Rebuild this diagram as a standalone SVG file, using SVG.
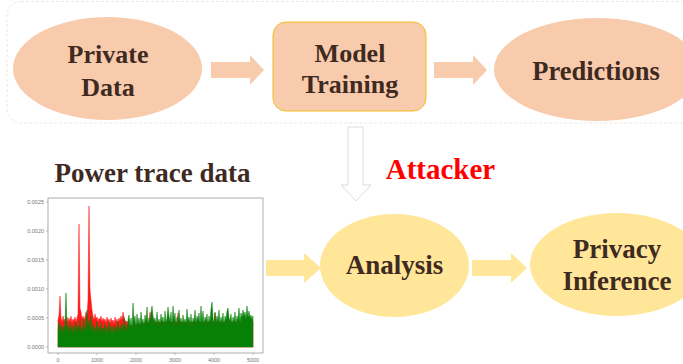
<svg xmlns="http://www.w3.org/2000/svg" width="683" height="364" viewBox="0 0 683 364">
<style>
.lbl{font-family:"Liberation Serif","Times New Roman",serif;font-weight:bold;fill:#3F2A1F;text-anchor:middle}
.top{fill:#F8CBAD}
.bot{fill:#FFE699}
.tick{font-family:"Liberation Sans",Arial,sans-serif;font-size:5.5px;fill:#777}
</style>
<rect width="683" height="364" fill="#FFFFFF"/>
<g id="container">
<rect x="7" y="1.5" width="700" height="121.5" rx="14" fill="#FFFFFF" stroke="#EEE8DE" stroke-width="1" stroke-dasharray="3,2"/>
</g>
<g id="connectors">
<path class="top" d="M211,62 H250 V55 L264,70 L250,85 V78 H211 Z"/>
<path class="top" d="M434,62 H473 V55 L487,70 L473,85 V78 H434 Z"/>
<path d="M348,127 H363 V185 H371 L356,201 L341,185 H348 Z" fill="#FFFFFF" stroke="#DCDCDC" stroke-width="1"/>
<path class="bot" d="M266,260 H304 V253 L321,268 L304,283 V276 H266 Z"/>
<path class="bot" d="M472,260 H511 V253 L527,268 L511,283 V276 H472 Z"/>
</g>
<g id="private-data">
<ellipse class="top" cx="107.5" cy="68.5" rx="94.5" ry="51.5"/>
<text class="lbl" x="108" y="63" font-size="26">Private</text>
<text class="lbl" x="108" y="96" font-size="26">Data</text>
</g>
<g id="model-training">
<rect class="top" x="273" y="22" width="153" height="89" rx="13" stroke="#F5BC1C" stroke-width="1"/>
<text class="lbl" x="350" y="62" font-size="26">Model</text>
<text class="lbl" x="350" y="93" font-size="26">Training</text>
</g>
<g id="predictions">
<ellipse class="top" cx="597" cy="69.5" rx="103" ry="51.5"/>
<text class="lbl" x="596" y="80" font-size="26.5">Predictions</text>
</g>
<g id="attacker">
<text x="440.5" y="179" font-family="'Liberation Serif','Times New Roman',serif" font-weight="bold" font-size="29" fill="#FF0000" text-anchor="middle">Attacker</text>
</g>
<g id="power-trace">
<text class="lbl" x="152.5" y="182" font-size="27" fill="#4A2E22">Power trace data</text>
<rect x="48" y="198" width="215" height="155" fill="#FFFFFF" stroke="#999" stroke-width="0.8"/>
<g stroke="#999" stroke-width="0.6">
<line x1="46" y1="202" x2="48" y2="202"/><line x1="46" y1="231" x2="48" y2="231"/><line x1="46" y1="260" x2="48" y2="260"/><line x1="46" y1="289" x2="48" y2="289"/><line x1="46" y1="318" x2="48" y2="318"/><line x1="46" y1="347" x2="48" y2="347"/>
<line x1="58" y1="353" x2="58" y2="355"/><line x1="97" y1="353" x2="97" y2="355"/><line x1="136" y1="353" x2="136" y2="355"/><line x1="175" y1="353" x2="175" y2="355"/><line x1="214" y1="353" x2="214" y2="355"/><line x1="253" y1="353" x2="253" y2="355"/>
</g>
<g class="tick" text-anchor="end">
<text x="44" y="204">0.0025</text><text x="44" y="233">0.0020</text><text x="44" y="262">0.0015</text><text x="44" y="291">0.0010</text><text x="44" y="320">0.0005</text><text x="44" y="349">0.0000</text>
</g>
<g class="tick" text-anchor="middle">
<text x="58" y="362">0</text><text x="97" y="362">1000</text><text x="136" y="362">2000</text><text x="175" y="362">3000</text><text x="214" y="362">4000</text><text x="253" y="362">5000</text>
</g>
<polygon fill="#FF1A1A" stroke="#FF1A1A" stroke-width="0.5" points="58,347 58,320 59,315 60,296 61,318 62,322 63,316 64,321 65,319 66,323 67,317 68,322 69,318 70,321 71,316 72,323 73,319 74,321 75,317 76,322 77,318 78,314 79,224 80,308 81,312 82,319 83,316 84,321 85,317 86,312 87,316 88,300 89,206 90,290 91,300 92,310 93,316 94,320 95,314 96,319 97,317 98,322 99,318 100,320 101,316 102,322 103,318 104,321 105,319 106,323 107,317 108,321 109,319 110,324 111,318 112,322 113,320 114,324 115,317 116,322 117,319 118,323 119,318 120,321 121,316 122,320 123,312 124,318 125,320 126,322 127,321 128,324 130,326 149,322 150,312 151,322 177,322 178,313 179,322 214,322 215,313 216,322 253,322 253,347"/>
<polygon fill="#078007" stroke="#078007" stroke-width="0.5" points="58,347 58,330 59,322 60,335 61,325 62,332 63,326 64,334 65,324 66,293 67,330 68,326 69,334 70,323 71,331 72,327 73,335 74,325 75,332 76,322 77,333 78,326 79,331 80,320 81,334 82,327 83,330 84,318 85,333 86,326 87,310 88,330 89,320 90,333 91,316 92,331 93,324 94,334 95,327 96,332 97,321 98,335 99,326 100,331 101,323 102,334 103,328 104,330 105,324 106,336 107,327 108,332 109,322 110,333 111,326 112,335 113,329 114,325 115,333 116,327 117,331 118,321 119,334 120,326 121,330 122,324 123,333 124,317 125,330 126,325 127,332 128,320 129,315 130,327 131,318 132,330 133,303 134,322 135,316 136,329 137,314 138,324 139,318 140,327 141,312 142,323 143,319 144,328 145,315 146,322 147,307 148,326 149,318 150,324 151,313 152,306 153,316 154,321 155,318 156,327 157,312 158,324 159,319 160,326 161,314 162,322 163,317 164,328 165,311 166,323 167,318 168,307 169,316 170,322 171,312 172,327 173,306 174,320 175,313 176,328 177,317 178,324 179,310 180,322 181,318 182,327 183,315 184,323 185,319 186,326 187,309 188,321 189,317 190,325 191,314 192,328 193,318 194,322 195,310 196,324 197,316 198,320 199,313 200,326 201,306 202,323 203,311 204,325 205,317 206,321 207,314 208,327 209,316 210,322 211,309 212,302 213,318 214,326 215,312 216,323 217,316 218,321 219,310 220,325 221,317 222,322 223,313 224,327 225,316 226,320 227,311 228,308 229,318 230,321 231,314 232,326 233,317 234,322 235,312 236,325 237,316 238,320 239,308 240,323 241,313 242,318 243,310 244,316 245,312 246,319 247,306 248,317 249,311 250,318 251,315 252,320 253,316 253,347"/>
</g>
<g id="analysis">
<ellipse class="bot" cx="394.5" cy="265.5" rx="74.5" ry="51.5"/>
<text class="lbl" x="394.5" y="274" font-size="27">Analysis</text>
</g>
<g id="privacy-inference">
<ellipse class="bot" cx="617" cy="264.5" rx="87" ry="51.5"/>
<text class="lbl" x="617" y="258" font-size="27">Privacy</text>
<text class="lbl" x="617" y="290" font-size="27">Inference</text>
</g>
</svg>
